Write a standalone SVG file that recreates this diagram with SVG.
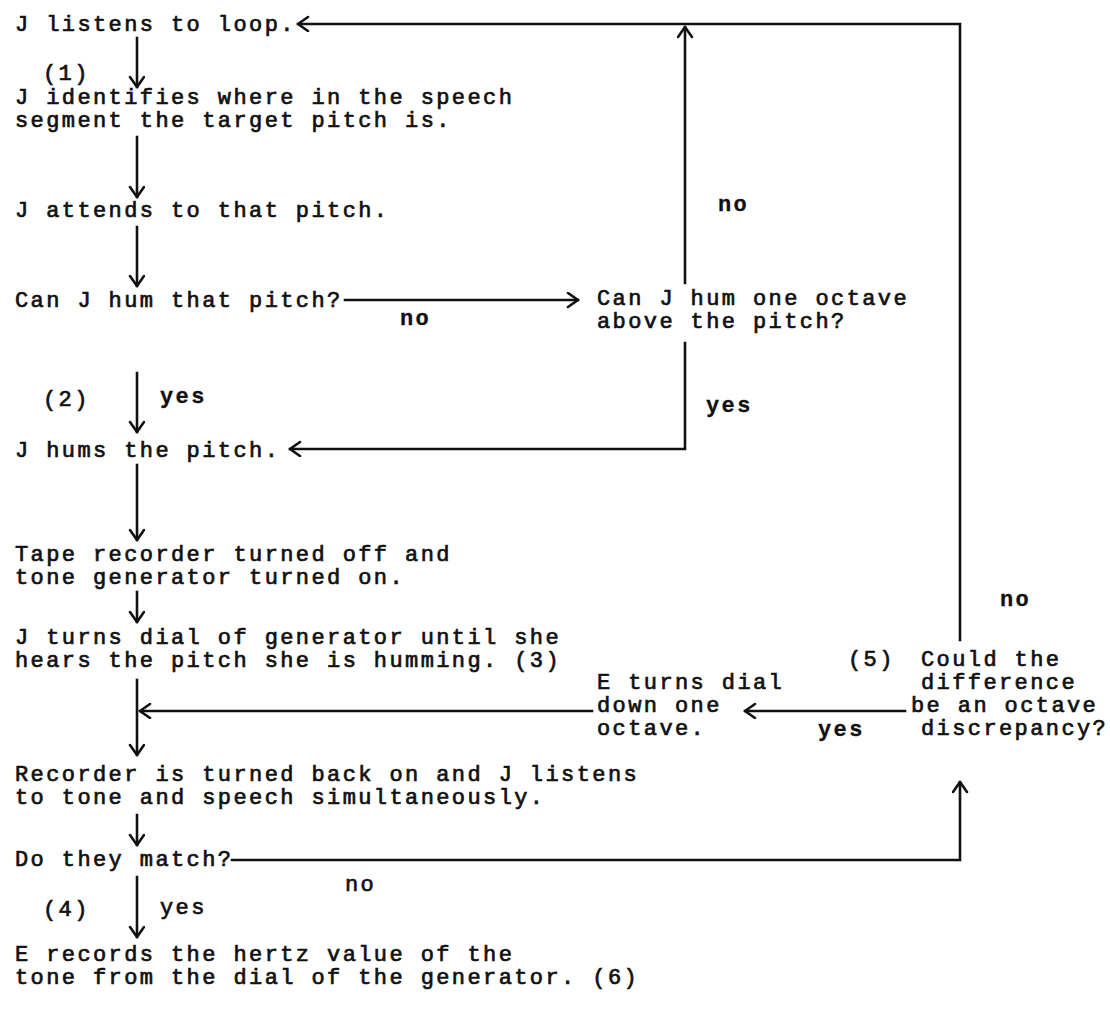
<svg xmlns="http://www.w3.org/2000/svg" width="1110" height="1022" viewBox="0 0 1110 1022">
<style>
text{font-family:"Liberation Mono","Courier New",monospace;font-size:22px;letter-spacing:2.4px;fill:#111;stroke:#111;stroke-width:0.7}
.lbl{font-weight:bold;stroke-width:0.3}
.c{fill:none;stroke:#111;stroke-width:2.6;stroke-linecap:square}
</style>
<defs>
<marker id="ah" markerUnits="userSpaceOnUse" markerWidth="20" markerHeight="20" refX="12" refY="8" orient="auto">
<path d="M2,1 L12,8 L2,15" fill="none" stroke="#111" stroke-width="2.6" stroke-linecap="round" stroke-linejoin="round"/>
</marker>
</defs>
<rect width="1110" height="1022" fill="#fff"/>
<g id="connectors">
<path class="c" d="M960,640 V24 H298" marker-end="url(#ah)"/>
<path class="c" d="M685,283 V27" marker-end="url(#ah)"/>
<path class="c" d="M137,38 V87" marker-end="url(#ah)"/>
<path class="c" d="M137,137 V197" marker-end="url(#ah)"/>
<path class="c" d="M137,227 V286" marker-end="url(#ah)"/>
<path class="c" d="M345,300 H578" marker-end="url(#ah)"/>
<path class="c" d="M137,373 V432" marker-end="url(#ah)"/>
<path class="c" d="M685,343 V449 H290" marker-end="url(#ah)"/>
<path class="c" d="M137,465 V540" marker-end="url(#ah)"/>
<path class="c" d="M137,592 V622" marker-end="url(#ah)"/>
<path class="c" d="M137,680 V755" marker-end="url(#ah)"/>
<path class="c" d="M592,711 H140" marker-end="url(#ah)"/>
<path class="c" d="M905,711 H745" marker-end="url(#ah)"/>
<path class="c" d="M137,815 V845" marker-end="url(#ah)"/>
<path class="c" d="M232,860 H960 V782" marker-end="url(#ah)"/>
<path class="c" d="M137,877 V937" marker-end="url(#ah)"/>
</g>
<g id="n1"><text x="15" y="31">J listens to loop.</text></g>
<g id="l1"><text x="43" y="80">(1)</text></g>
<g id="n2"><text x="15" y="104">J identifies where in the speech</text><text x="15" y="127">segment the target pitch is.</text></g>
<g id="n3"><text x="15" y="217">J attends to that pitch.</text></g>
<g id="n4"><text x="15" y="307">Can J hum that pitch?</text></g>
<g id="n5"><text x="597" y="305">Can J hum one octave</text><text x="597" y="328">above the pitch?</text></g>
<g id="labels1">
<text class="lbl" x="718" y="211">no</text>
<text class="lbl" x="400" y="325">no</text>
<text x="43" y="406">(2)</text>
<text class="lbl" x="160" y="403">yes</text>
<text class="lbl" x="706" y="412">yes</text>
</g>
<g id="n6"><text x="15" y="457">J hums the pitch.</text></g>
<g id="n7"><text x="15" y="561">Tape recorder turned off and</text><text x="15" y="584">tone generator turned on.</text></g>
<g id="n8"><text x="15" y="644">J turns dial of generator until she</text><text x="15" y="667">hears the pitch she is humming. (3)</text></g>
<g id="n9"><text x="921" y="666">Could the</text><text x="921" y="689">difference</text><text x="911" y="712">be an octave</text><text x="921" y="735">discrepancy?</text></g>
<g id="n10"><text x="597" y="689">E turns dial</text><text x="597" y="712">down one</text><text x="597" y="735">octave.</text></g>
<g id="labels2">
<text x="848" y="666">(5)</text>
<text class="lbl" x="818" y="736">yes</text>
<text class="lbl" x="1000" y="606">no</text>
</g>
<g id="n11"><text x="15" y="781">Recorder is turned back on and J listens</text><text x="15" y="804">to tone and speech simultaneously.</text></g>
<g id="n12"><text x="15" y="866">Do they match?</text></g>
<g id="labels3">
<text x="345" y="891">no</text>
<text x="43" y="916">(4)</text>
<text x="160" y="914">yes</text>
</g>
<g id="n13"><text x="15" y="961">E records the hertz value of the</text><text x="15" y="984">tone from the dial of the generator. (6)</text></g>
</svg>
